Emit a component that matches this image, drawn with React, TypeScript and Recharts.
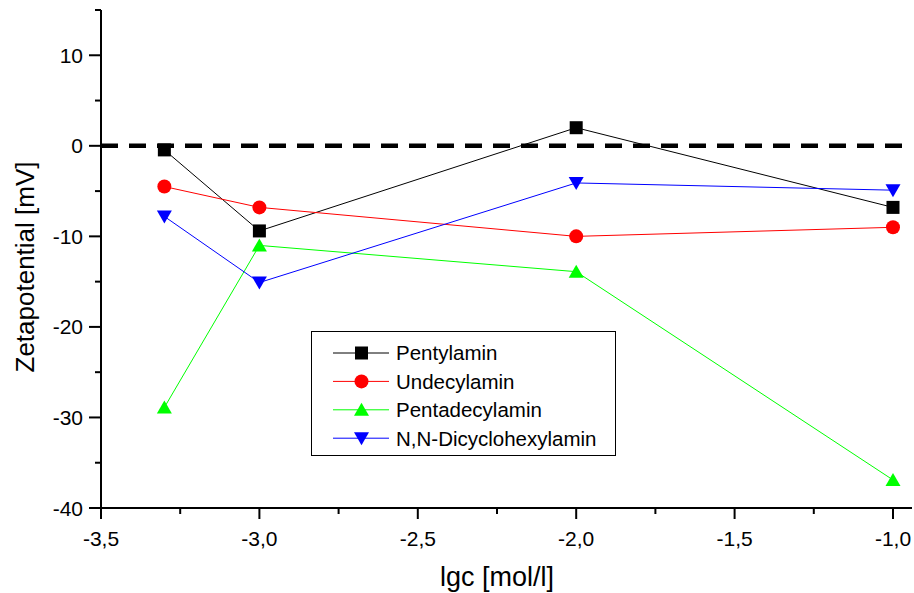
import React from "react";
import { LineChart, Line, XAxis, YAxis, ReferenceLine } from "recharts";

const conc = [-3.3, -3.0, -2.0, -1.0];
const pentyl = [-0.45, -9.4, 2.0, -6.8];
const undecyl = [-4.5, -6.8, -10.0, -9.0];
const pentadecyl = [-28.9, -11.0, -13.9, -36.9];
const dicyclohexyl = [-7.8, -15.1, -4.1, -4.9];

const xTicks = [-3.5, -3.25, -3.0, -2.75, -2.5, -2.25, -2.0, -1.75, -1.5, -1.25, -1.0];
const yTicks = [-40, -35, -30, -25, -20, -15, -10, -5, 0, 5, 10, 15];

const rows = conc.map((x, i) => ({
  x,
  pentyl: pentyl[i],
  undecyl: undecyl[i],
  pentadecyl: pentadecyl[i],
  dicyclohexyl: dicyclohexyl[i],
}));

type Shape = "square" | "circle" | "up" | "down";

const series: { key: string; name: string; color: string; shape: Shape }[] = [
  { key: "pentyl", name: "Pentylamin", color: "#000000", shape: "square" },
  { key: "undecyl", name: "Undecylamin", color: "#ff0000", shape: "circle" },
  { key: "pentadecyl", name: "Pentadecylamin", color: "#00ff00", shape: "up" },
  { key: "dicyclohexyl", name: "N,N-Dicyclohexylamin", color: "#0000ff", shape: "down" },
];

const FONT = "'Liberation Sans', Arial, sans-serif";

function Marker({ cx, cy, shape, color }: { cx: number; cy: number; shape: Shape; color: string }) {
  if (shape === "square") return <rect x={cx - 6.5} y={cy - 6.5} width={13} height={13} fill={color} />;
  if (shape === "circle") return <circle cx={cx} cy={cy} r={7} fill={color} />;
  if (shape === "up")
    return <polygon points={`${cx - 7.5},${cy + 6} ${cx + 7.5},${cy + 6} ${cx},${cy - 7}`} fill={color} />;
  return <polygon points={`${cx - 7.5},${cy - 6} ${cx + 7.5},${cy - 6} ${cx},${cy + 7}`} fill={color} />;
}

const isMajorY = (v: number) => v % 10 === 0 && v <= 10;
const isMajorX = (v: number) => Math.abs(v * 2 - Math.round(v * 2)) < 1e-6;

function YTick(props: any) {
  const { x, y, payload } = props;
  const major = isMajorY(payload.value);
  return (
    <g>
      <line x1={x} x2={x - (major ? 12 : 6)} y1={y} y2={y} stroke="#000" strokeWidth={2} />
      {major && (
        <text x={x - 18} y={y} dy="0.36em" textAnchor="end" fontSize={21} fontFamily={FONT} fill="#000">
          {payload.value}
        </text>
      )}
    </g>
  );
}

function XTick(props: any) {
  const { x, y, payload } = props;
  const major = isMajorX(payload.value);
  return (
    <g>
      <line x1={x} x2={x} y1={y} y2={y + (major ? 11 : 6)} stroke="#000" strokeWidth={2} />
      {major && (
        <text x={x} y={y + 30} dy="0.36em" textAnchor="middle" fontSize={21} fontFamily={FONT} fill="#000">
          {payload.value.toFixed(1).replace(".", ",")}
        </text>
      )}
    </g>
  );
}

function LegendBox() {
  return (
    <div
      style={{
        position: "absolute",
        left: 311,
        top: 331,
        width: 303,
        height: 123,
        border: "1.5px solid #000",
        background: "#fff",
      }}
    >
      <svg width={303} height={123} style={{ position: "absolute", left: 0, top: 0 }}>
        {series.map((s, i) => {
          const cy = 21 + i * 28.4;
          return (
            <g key={s.key}>
              <line x1={21} x2={77} y1={cy} y2={cy} stroke={s.color} strokeWidth={1} />
              <Marker cx={49.5} cy={cy} shape={s.shape} color={s.color} />
              <text x={84} y={cy} dy="0.36em" fontSize={20.5} fontFamily={FONT} fill="#000">
                {s.name}
              </text>
            </g>
          );
        })}
      </svg>
    </div>
  );
}

export default function App() {
  return (
    <div style={{ position: "absolute", left: 0, top: 0, width: 914, height: 593, background: "#fff" }}>
      <LineChart width={914} height={593} data={rows} margin={{ top: 10, right: 2, bottom: 0, left: 0 }}>
        <XAxis
          type="number"
          dataKey="x"
          domain={[-3.5, -0.94]}
          ticks={xTicks}
          interval={0}
          height={85}
          tickSize={0}
          tickMargin={0}
          tick={<XTick />}
          axisLine={{ stroke: "#000", strokeWidth: 2 }}
          allowDataOverflow
        />
        <YAxis
          type="number"
          domain={[-40, 15]}
          ticks={yTicks}
          interval={0}
          width={101}
          tickSize={0}
          tickMargin={0}
          tick={<YTick />}
          axisLine={{ stroke: "#000", strokeWidth: 2 }}
          allowDataOverflow
        />
        <ReferenceLine y={0} stroke="#000" strokeWidth={4.5} strokeDasharray="17 11" />
        {series.map((s) => (
          <Line
            key={s.key}
            type="linear"
            dataKey={s.key}
            name={s.name}
            stroke={s.color}
            strokeWidth={1}
            isAnimationActive={false}
            dot={(p: any) => <Marker key={`${s.key}-${p.index}`} cx={p.cx} cy={p.cy} shape={s.shape} color={s.color} />}
            activeDot={false}
          />
        ))}
      </LineChart>
      <div
        style={{
          position: "absolute",
          left: 25,
          top: 267,
          transform: "translate(-50%, -50%) rotate(-90deg)",
          fontFamily: FONT,
          fontSize: 26,
          whiteSpace: "nowrap",
        }}
      >
        Zetapotential [mV]
      </div>
      <div
        style={{
          position: "absolute",
          left: 497,
          top: 577,
          transform: "translate(-50%, -50%)",
          fontFamily: FONT,
          fontSize: 27,
          whiteSpace: "nowrap",
        }}
      >
        lgc [mol/l]
      </div>
      <LegendBox />
    </div>
  );
}
